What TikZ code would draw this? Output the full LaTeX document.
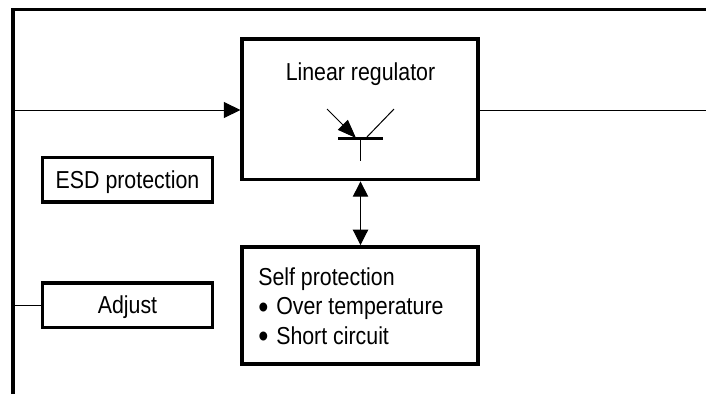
\documentclass[tikz,border=0pt]{standalone}
\usepackage{fontspec}
\setmainfont[FakeStretch=0.87]{Liberation Sans}
\usetikzlibrary{arrows.meta}
\newcommand{\bigbul}{\makebox[13.5pt][l]{\smash{\raisebox{-2.9pt}{\scalebox{1.35}{•}}}}}
\tikzset{
  px/.style={x=0.75pt,y=-0.75pt},
  frameline/.style={line width=2.9pt},
  box/.style={draw=black,line width=2.7pt,fill=white,inner sep=0pt},
  thin wire/.style={line width=0.75pt},
  bigarrow/.style={thin wire,-{Triangle[length=12.5pt,width=12pt]}},
  bothways/.style={thin wire,{Triangle[length=11.5pt,width=11.5pt]}-{Triangle[length=11.5pt,width=11.5pt]}},
  label/.style={inner sep=0pt,font=\fontsize{18.4pt}{22.1pt}\selectfont},
}
\begin{document}
\begin{tikzpicture}[px]
\useasboundingbox (0,0) rectangle (706,394);
\fill[white] (0,0) rectangle (706,394);
\draw[frameline] (13,394) -- (13,9.5) -- (706,9.5);
\coordinate (inL) at (13,110);
\coordinate (outR) at (706,110);
\coordinate (adjL) at (13,305);
\node[box,minimum width=177pt,minimum height=105.5pt] (reg) at (360.25,109.25) {};
\node[box,minimum width=177pt,minimum height=88pt] (self) at (360.25,305.5) {};
\node[box,minimum width=127.5pt,minimum height=33.3pt] (esd) at (127.5,179.5) {};
\node[box,minimum width=127.5pt,minimum height=33.3pt] (adj) at (127.5,305.2) {};
\node[label,anchor=base] (regt) at (360.5,80) {Linear regulator};
\node[label,anchor=base] (esdt) at (127.5,188) {ESD protection};
\node[label,anchor=base] (adjt) at (127.5,313.5) {Adjust};
\node[label,anchor=base west,align=left] (selft) at (258,344)
  {Self protection\\\bigbul Over temperature\\\bigbul Short circuit};
\draw[bigarrow] (inL) -- (reg.west |- inL);
\draw[thin wire] (reg.east |- outR) -- (outR);
\draw[thin wire] (adjL) -- (adj.west |- adjL);
\draw[bothways] (reg.south -| 360.5,0) -- (self.north -| 360.5,0);
% transistor symbol
\coordinate (bL) at (338,138.7);
\coordinate (bR) at (383,138.7);
\coordinate (stem) at (360.5,160.7);
\coordinate (emit) at (327,109);
\coordinate (coll) at (394,109);
\coordinate (eb) at (356,138);
\coordinate (cb) at (366,138);
\draw[line width=2.4pt] (bL) -- (bR);
\draw[thin wire] (360.5,138.7) -- (stem);
\draw[thin wire,-{Triangle[length=14pt,width=10.5pt]}] (emit) -- (eb);
\draw[thin wire] (cb) -- (coll);
\end{tikzpicture}
\end{document}
